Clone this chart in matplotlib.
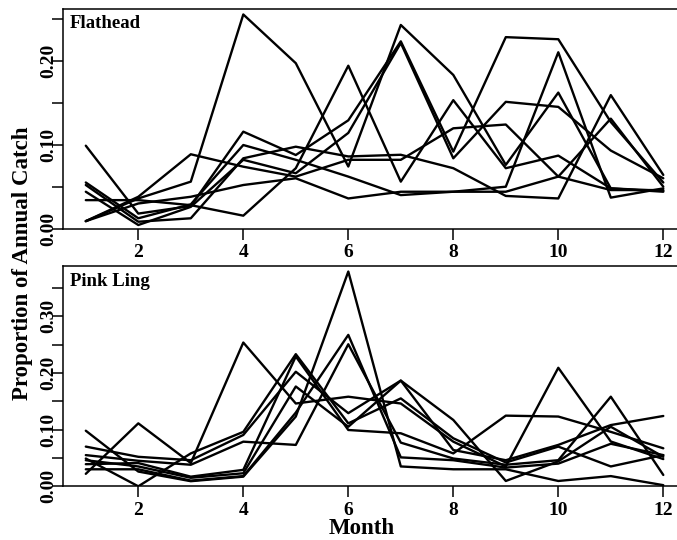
import matplotlib
matplotlib.use("Agg")
import matplotlib.pyplot as plt
import numpy as np

# 月份
months = list(range(1, 13))

# Flathead: 各年份的月度渔获比例
flathead = [
    [0.009, 0.036, 0.056, 0.255, 0.197, 0.074, 0.2425, 0.183, 0.076, 0.162, 0.048, 0.044],
    [0.034, 0.034, 0.028, 0.0155, 0.072, 0.194, 0.056, 0.153, 0.072, 0.087, 0.048, 0.045],
    [0.0988, 0.018, 0.027, 0.1155, 0.0877, 0.129, 0.223, 0.0917, 0.228, 0.2255, 0.127, 0.055],
    [0.055, 0.0124, 0.029, 0.0996, 0.082, 0.062, 0.040, 0.044, 0.050, 0.210, 0.037, 0.048],
    [0.052, 0.0083, 0.0124, 0.0838, 0.0976, 0.086, 0.088, 0.072, 0.039, 0.036, 0.159, 0.064],
    [0.044, 0.0044, 0.026, 0.082, 0.066, 0.114, 0.221, 0.0838, 0.151, 0.145, 0.093, 0.060],
    [0.009, 0.038, 0.0886, 0.0738, 0.062, 0.082, 0.082, 0.1195, 0.124, 0.062, 0.131, 0.050],
    [0.009, 0.030, 0.038, 0.052, 0.060, 0.036, 0.044, 0.044, 0.044, 0.062, 0.046, 0.046],
]

# Pink Ling
pink_ling = [
    [0.022, 0.111, 0.041, 0.2535, 0.146, 0.158, 0.146, 0.0787, 0.035, 0.209, 0.079, 0.048],
    [0.098, 0.026, 0.009, 0.017, 0.123, 0.3787, 0.035, 0.030, 0.030, 0.0094, 0.018, 0.002],
    [0.070, 0.052, 0.046, 0.0905, 0.202, 0.129, 0.1864, 0.117, 0.0094, 0.044, 0.105, 0.052],
    [0.055, 0.045, 0.038, 0.0787, 0.073, 0.2505, 0.077, 0.049, 0.038, 0.046, 0.158, 0.020],
    [0.049, 0.0, 0.058, 0.096, 0.233, 0.111, 0.155, 0.0847, 0.042, 0.070, 0.035, 0.055],
    [0.046, 0.035, 0.015, 0.023, 0.176, 0.105, 0.1864, 0.064, 0.046, 0.073, 0.108, 0.124],
    [0.039, 0.041, 0.017, 0.029, 0.229, 0.0993, 0.0935, 0.058, 0.1246, 0.123, 0.096, 0.067],
    [0.030, 0.030, 0.010, 0.018, 0.130, 0.267, 0.051, 0.046, 0.033, 0.040, 0.075, 0.055],
]

xticks = [2, 4, 6, 8, 10, 12]
top_yticks = [0.00, 0.05, 0.10, 0.15, 0.20, 0.25]
top_ylabels = ["0.00", "", "0.10", "", "0.20", ""]
bot_yticks = [0.00, 0.05, 0.10, 0.15, 0.20, 0.25, 0.30, 0.35]
bot_ylabels = ["0.00", "", "0.10", "", "0.20", "", "0.30", ""]

plt.rcParams['font.family'] = ['Liberation Serif', 'DejaVu Serif']
plt.rcParams['font.weight'] = 'bold'

W, H = 677, 540
fig = plt.figure(figsize=(W / 100, H / 100), dpi=100)

# 坐标轴位置 (像素换算), 右侧超出画布, 和原图一样被裁掉
ax1 = fig.add_axes([62.7 / W, 1 - 228.7 / H, 623.7 / W, 219.7 / H])
ax2 = fig.add_axes([62.7 / W, 1 - 486.3 / H, 623.7 / W, 220.6 / H])


def style_axis(ax, data, ylim, yticks, ylabels, title, title_dy):
    for series in data:
        ax.plot(months, series, color='black', linewidth=1.7,
                solid_joinstyle='round', solid_capstyle='round')
    ax.set_xlim(0.56, 12.44)
    ax.set_ylim(*ylim)
    ax.set_xticks(xticks)
    ax.set_xticklabels([str(t) for t in xticks], fontsize=14, fontweight='bold')
    ax.set_yticks(yticks)
    ax.set_yticklabels(ylabels, fontsize=14, fontweight='bold', rotation=90)
    for lab in ax.get_yticklabels():
        lab.set_va('center')
    ax.tick_params(axis='both', direction='out', length=8, width=1.1, color='black')
    ax.tick_params(axis='x', pad=3.0)
    ax.tick_params(axis='y', pad=-4.2)
    for s in ['left', 'bottom', 'top', 'right']:
        ax.spines[s].set_linewidth(1.1)
    ax.annotate(title, xy=(0, 1), xycoords='axes fraction', xytext=(7.3, -title_dy),
                textcoords='offset pixels', ha='left', va='top',
                fontsize=13.5, fontweight='bold')


style_axis(ax1, flathead, (0, 0.2615), top_yticks, top_ylabels, 'Flathead', 6)
style_axis(ax2, pink_ling, (0, 0.389), bot_yticks, bot_ylabels, 'Pink Ling', 7)

fig.text(32.7 / W, 1 - 263 / H, 'Proportion of Annual Catch', rotation=90,
         ha='right', va='center', fontsize=16.5, fontweight='bold')
fig.text(361.7 / W, 1 - 534.5 / H, 'Month', ha='center', va='baseline',
         fontsize=16.5, fontweight='bold')

fig.savefig('out.png', dpi=100)
